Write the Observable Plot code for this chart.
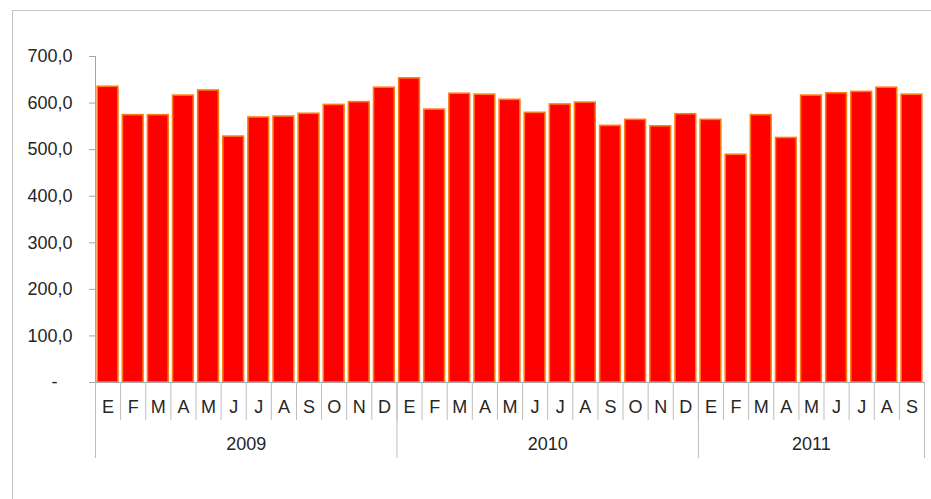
<!DOCTYPE html>
<html>
<head>
<meta charset="utf-8">
<script src="https://cdn.jsdelivr.net/npm/d3@7"></script>
<script src="https://cdn.jsdelivr.net/npm/@observablehq/plot@0.6"></script>
<style>
  html, body { margin: 0; padding: 0; background: #fff; }
  #wrap { position: relative; width: 931px; height: 499px; overflow: hidden; }
  #frame { position: absolute; left: 12px; top: 10px; right: 0; bottom: 0;
           border-left: 1px solid #c4c4c4; border-top: 1px solid #c4c4c4; }
  #chart { position: absolute; left: 0; top: 0; }
</style>
</head>
<body>
<div id="wrap"><div id="frame"></div><div id="chart"></div></div>
<script>
const months = ["E","F","M","A","M","J","J","A","S","O","N","D"];
const years = ["2009", "2010", "2011"];
const values2009 = [635, 574, 574, 616, 627, 528, 569, 571, 577, 596, 602, 633];
const values2010 = [653, 586, 620, 618, 607, 579, 597, 601, 551, 564, 550, 576];
const values2011 = [564, 489, 574, 525, 616, 621, 624, 633, 618];
const yTicks = [0, 100, 200, 300, 400, 500, 600, 700];

const series = [values2009, values2010, values2011];
const data = [];
const yearSpans = [];
series.forEach((vals, yi) => {
  const start = data.length;
  vals.forEach((v, mi) => data.push({i: data.length, month: months[mi], year: years[yi], value: v}));
  yearSpans.push({year: years[yi], start, end: data.length});
});
const n = data.length;
const boundaries = d3.range(0, n + 1);
const yearBounds = [0, ...yearSpans.map(s => s.end)];

const fmt = v => v === 0 ? "-\u00a0\u00a0\u00a0" : v.toFixed(1).replace(".", ",");
const axisGray = "#a6a6a6";
const textColor = "#262626";

const chart = Plot.plot({
  width: 931,
  height: 499,
  marginLeft: 95,
  marginRight: 7,
  marginTop: 56,
  marginBottom: 117,
  style: {fontFamily: "'Liberation Sans', Arial, sans-serif", fontSize: "18px", color: textColor, background: "transparent"},
  x: {domain: [0, n], label: null},
  y: {domain: [0, 700], label: null},
  marks: [
    Plot.rectY(data, {x1: d => d.i, x2: d => d.i + 1, y: "value", fill: "#fe0000", stroke: "#ff7a10", strokeWidth: 1.6, insetLeft: 2.2, insetRight: 2.2}),
    Plot.axisY({ticks: yTicks, tickSize: 6, tickPadding: 17, tickFormat: fmt, stroke: axisGray, strokeOpacity: 1, fill: textColor, label: null}),
    Plot.ruleX([0], {stroke: axisGray}),
    Plot.ruleY([0], {stroke: axisGray}),
    Plot.axisX(boundaries, {tickSize: 38, tickFormat: () => "", stroke: "#bdbdbd", strokeOpacity: 1, label: null}),
    Plot.axisX(yearBounds, {tickSize: 76, tickFormat: () => "", stroke: "#bdbdbd", strokeOpacity: 1, label: null}),
    Plot.axisX(data.map(d => d.i + 0.5), {tickSize: 0, tickPadding: 18, tickFormat: (t) => data[Math.floor(t)].month, fill: textColor, label: null}),
    Plot.axisX(yearSpans.map(s => (s.start + s.end) / 2), {tickSize: 0, tickPadding: 55, tickFormat: (t) => yearSpans.find(s => (s.start + s.end) / 2 === t).year, fill: textColor, label: null})
  ]
});
document.getElementById("chart").appendChild(chart);
</script>
</body>
</html>
